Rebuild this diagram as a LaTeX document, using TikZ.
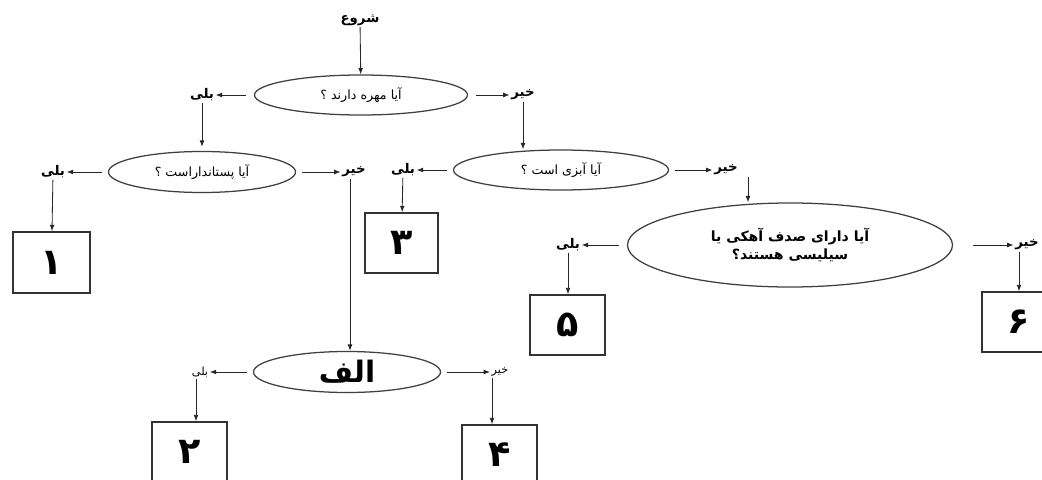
\documentclass[tikz,border=0pt]{standalone}
\usepackage{fontspec}
\newfontfamily\fafont[Script=Arabic]{DejaVu Sans}
\TeXXeTstate=1
\newcommand{\fatxt}[1]{{\fafont\beginR #1\endR}}
\usetikzlibrary{shapes.geometric,arrows.meta}

\begin{document}
\begin{tikzpicture}[x=0.25mm, y=-0.25mm,
		question/.style={ellipse, draw=black!75, line width=0.9pt, inner sep=0pt, font=\fontsize{9}{10}\selectfont},
		answer/.style={inner sep=1pt, font=\fontsize{9.5}{10}\bfseries\selectfont},
		result/.style={rectangle, draw=black!80, line width=1.1pt, inner sep=0pt, font=\fontsize{26}{28}\bfseries\selectfont},
		arr/.style={-{Latex[length=1.6mm,width=1.2mm]}, line width=0.6pt, black!85}]
	\useasboundingbox (0,0) rectangle (1042,480);

	% questions
	\node[question, minimum width=53.25mm, minimum height=10mm] (qverte) at (361,95) {\fatxt{آیا مهره دارند ؟}};
	\node[question, minimum width=46.75mm, minimum height=10.25mm] (qmamm) at (202,172) {\fatxt{آیا پستانداراست ؟}};
	\node[question, minimum width=53.75mm, minimum height=10mm] (qaqua) at (561,170) {\fatxt{آیا آبزی است ؟}};
	\node[question, minimum width=81.25mm, minimum height=21mm, align=center, font=\fontsize{10}{13}\bfseries\selectfont] (qshell) at (790,245)
		{\fatxt{آیا دارای صدف آهکی یا}\\\fatxt{سیلیسی هستند؟}};
	\node[question, minimum width=46.75mm, minimum height=10.25mm, font=\fontsize{21}{22}\bfseries\selectfont] (qalef) at (347,372) {\fatxt{الف}};

	% answers
	\node[answer] (start) at (360,20) {\fatxt{شروع}};
	\node[answer] (vyes) at (202,95) {\fatxt{بلی}};
	\node[answer] (vno) at (523,95) {\fatxt{خیر}};
	\node[answer] (myes) at (53,172) {\fatxt{بلی}};
	\node[answer] (mno) at (354,172) {\fatxt{خیر}};
	\node[answer] (ayes) at (403,170) {\fatxt{بلی}};
	\node[answer] (ano) at (726,170) {\fatxt{خیر}};
	\node[answer] (syes) at (568,245) {\fatxt{بلی}};
	\node[answer] (sno) at (1027,245) {\fatxt{خیر}};
	\node[answer, font=\fontsize{8}{9}\selectfont] (alyes) at (200,372) {\fatxt{بلی}};
	\node[answer, font=\fontsize{8}{9}\selectfont] (alno) at (500,372) {\fatxt{خیر}};

	% results
	\node[result, minimum width=19.25mm, minimum height=15.25mm] (r1) at (51.5,262.5) {\fatxt{۱}};
	\node[result, minimum width=18.75mm, minimum height=15mm] (r2) at (189.5,452) {\fatxt{۲}};
	\node[result, minimum width=18.25mm, minimum height=15mm] (r3) at (401.5,243) {\fatxt{۳}};
	\node[result, minimum width=18.75mm, minimum height=15mm] (r4) at (499.5,455) {\fatxt{۴}};
	\node[result, minimum width=18.75mm, minimum height=15mm] (r5) at (567.5,325) {\fatxt{۵}};
	\node[result, minimum width=18.5mm, minimum height=15mm] (r6) at (1019,322) {\fatxt{۶}};

	% connectors
	\draw[arr] (start) -- (qverte);
	\draw[arr, shorten <=2mm] (qverte.west) -- (vyes.east);
	\draw[arr, shorten <=2mm] (qverte.east) -- (vno.west);
	\draw[arr, shorten >=1mm] (vyes) -- (qmamm);
	\draw[arr] (vno) -- (vno |- qaqua.north);
	\draw[arr, shorten <=1.5mm] (qmamm.west) -- (myes.east);
	\draw[arr, shorten <=1.5mm] (qmamm.east) -- (mno.west);
	\draw[arr] (myes) -- (r1);
	\draw[arr] ([xshift=-1mm]mno.south) -- ([xshift=-1mm]mno.south |- qalef.north);
	\draw[arr, shorten <=1.5mm] (qaqua.west) -- (ayes.east);
	\draw[arr, shorten <=1.5mm] (qaqua.east) -- (ano.west);
	\draw[arr] (ayes) -- (r3);
	\draw[arr] ([xshift=5.5mm]ano.south) -- ([xshift=5.5mm]ano.south |- qshell.north);
	\draw[arr, shorten <=2mm] (qshell.west) -- (syes.east);
	\draw[arr, shorten <=5mm] (qshell.east) -- (sno.west);
	\draw[arr] (syes) -- (syes |- r5.north);
	\draw[arr] ([xshift=-2mm]sno.south) -- ([xshift=-2mm]sno.south |- r6.north);
	\draw[arr, shorten <=1.5mm] (qalef.west) -- (alyes.east);
	\draw[arr, shorten <=1.5mm] (qalef.east) -- (alno.west);
	\draw[arr] ([xshift=-1mm]alyes.south) -- ([xshift=-1mm]alyes.south |- r2.north);
	\draw[arr] ([xshift=-2mm]alno.south) -- ([xshift=-2mm]alno.south |- r4.north);
\end{tikzpicture}
\end{document}
